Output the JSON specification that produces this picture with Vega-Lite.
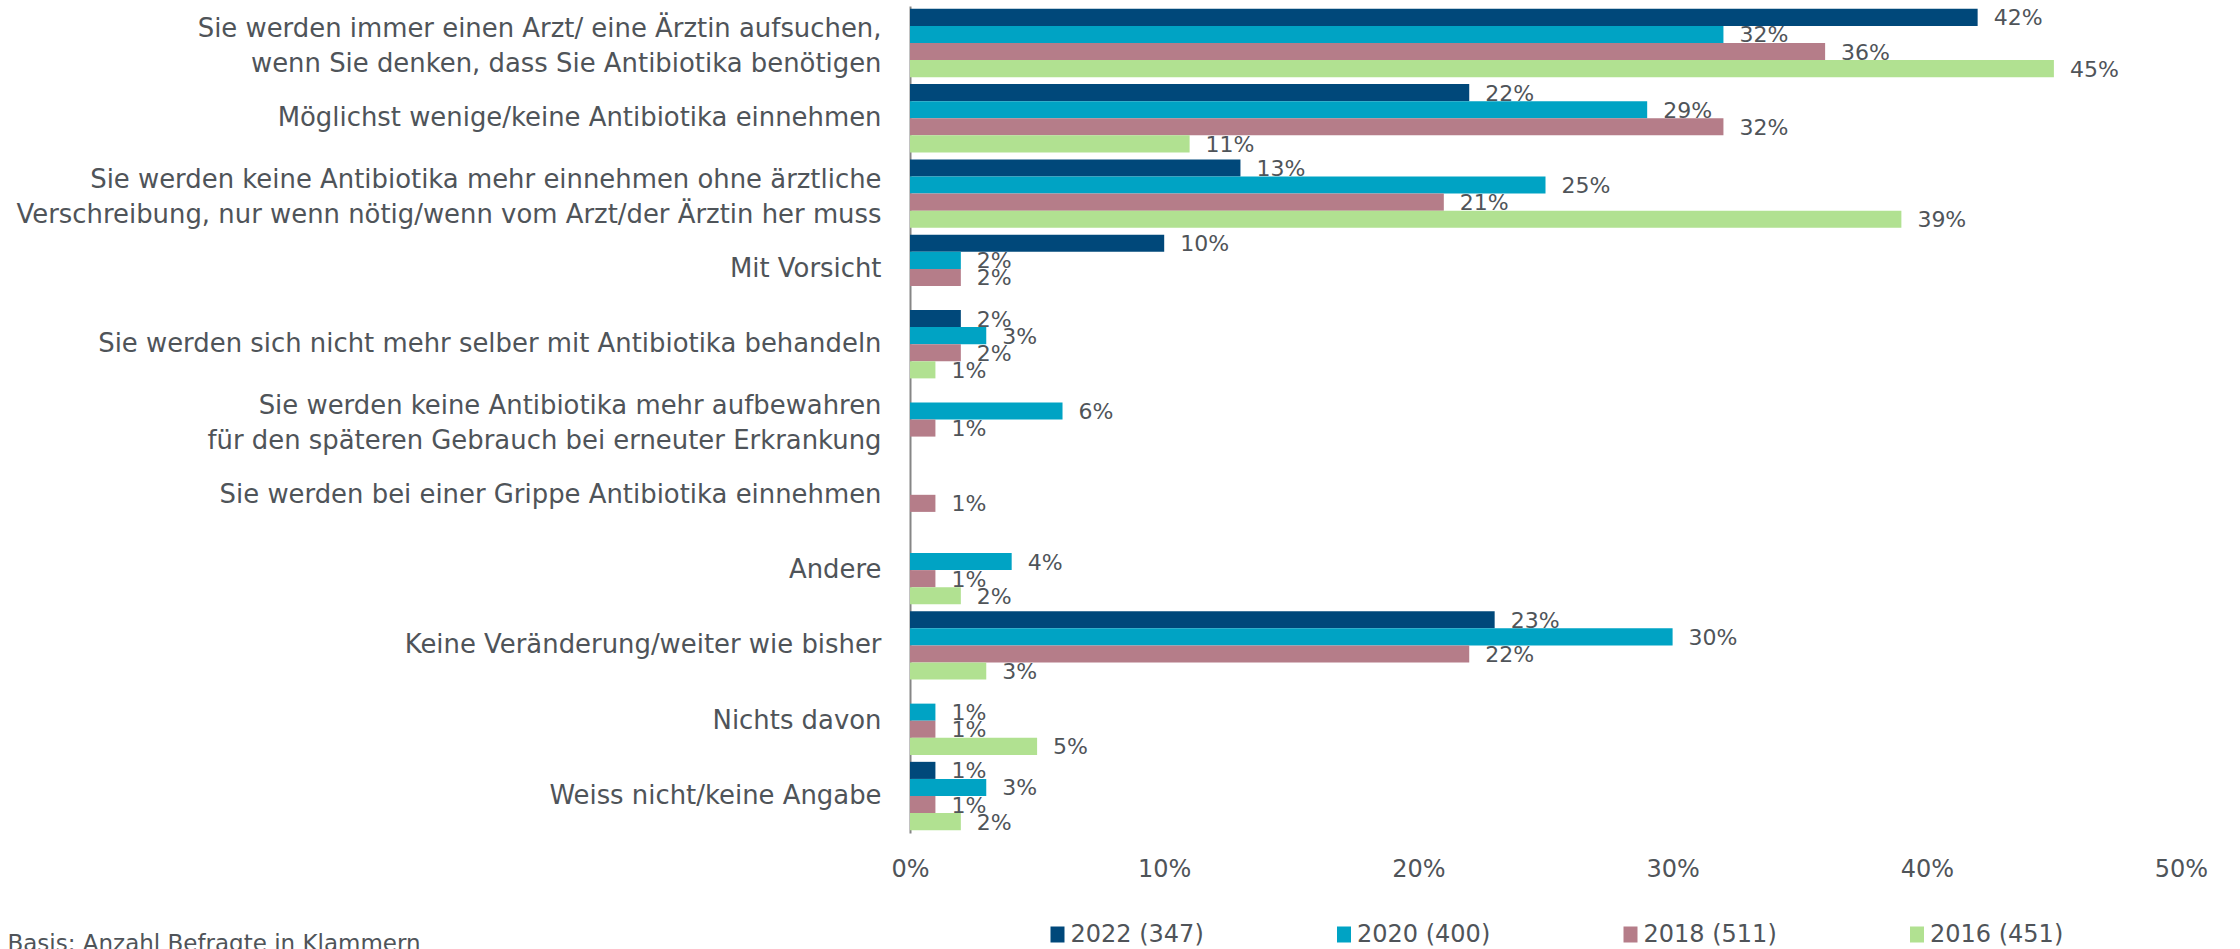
{
  "$schema": "https://vega.github.io/schema/vega-lite/v6.json",
  "width": 1271,
  "height": 827,
  "autosize": "none",
  "padding": {"left": 910, "top": 6, "right": 59, "bottom": 116},
  "background": "white",
  "config": {"view": {"stroke": null}, "font": "DejaVu Sans"},
  "data": {
    "values": [
      {"cat": "Sie werden immer einen Arzt/ eine Ärztin aufsuchen,|wenn Sie denken, dass Sie Antibiotika benötigen", "year": "2022 (347)", "v": 42},
      {"cat": "Sie werden immer einen Arzt/ eine Ärztin aufsuchen,|wenn Sie denken, dass Sie Antibiotika benötigen", "year": "2020 (400)", "v": 32},
      {"cat": "Sie werden immer einen Arzt/ eine Ärztin aufsuchen,|wenn Sie denken, dass Sie Antibiotika benötigen", "year": "2018 (511)", "v": 36},
      {"cat": "Sie werden immer einen Arzt/ eine Ärztin aufsuchen,|wenn Sie denken, dass Sie Antibiotika benötigen", "year": "2016 (451)", "v": 45},
      {"cat": "Möglichst wenige/keine Antibiotika einnehmen", "year": "2022 (347)", "v": 22},
      {"cat": "Möglichst wenige/keine Antibiotika einnehmen", "year": "2020 (400)", "v": 29},
      {"cat": "Möglichst wenige/keine Antibiotika einnehmen", "year": "2018 (511)", "v": 32},
      {"cat": "Möglichst wenige/keine Antibiotika einnehmen", "year": "2016 (451)", "v": 11},
      {"cat": "Sie werden keine Antibiotika mehr einnehmen ohne ärztliche|Verschreibung, nur wenn nötig/wenn vom Arzt/der Ärztin her muss", "year": "2022 (347)", "v": 13},
      {"cat": "Sie werden keine Antibiotika mehr einnehmen ohne ärztliche|Verschreibung, nur wenn nötig/wenn vom Arzt/der Ärztin her muss", "year": "2020 (400)", "v": 25},
      {"cat": "Sie werden keine Antibiotika mehr einnehmen ohne ärztliche|Verschreibung, nur wenn nötig/wenn vom Arzt/der Ärztin her muss", "year": "2018 (511)", "v": 21},
      {"cat": "Sie werden keine Antibiotika mehr einnehmen ohne ärztliche|Verschreibung, nur wenn nötig/wenn vom Arzt/der Ärztin her muss", "year": "2016 (451)", "v": 39},
      {"cat": "Mit Vorsicht", "year": "2022 (347)", "v": 10},
      {"cat": "Mit Vorsicht", "year": "2020 (400)", "v": 2},
      {"cat": "Mit Vorsicht", "year": "2018 (511)", "v": 2},
      {"cat": "Sie werden sich nicht mehr selber mit Antibiotika behandeln", "year": "2022 (347)", "v": 2},
      {"cat": "Sie werden sich nicht mehr selber mit Antibiotika behandeln", "year": "2020 (400)", "v": 3},
      {"cat": "Sie werden sich nicht mehr selber mit Antibiotika behandeln", "year": "2018 (511)", "v": 2},
      {"cat": "Sie werden sich nicht mehr selber mit Antibiotika behandeln", "year": "2016 (451)", "v": 1},
      {"cat": "Sie werden keine Antibiotika mehr aufbewahren|für den späteren Gebrauch bei erneuter Erkrankung", "year": "2020 (400)", "v": 6},
      {"cat": "Sie werden keine Antibiotika mehr aufbewahren|für den späteren Gebrauch bei erneuter Erkrankung", "year": "2018 (511)", "v": 1},
      {"cat": "Sie werden bei einer Grippe Antibiotika einnehmen", "year": "2018 (511)", "v": 1},
      {"cat": "Andere", "year": "2020 (400)", "v": 4},
      {"cat": "Andere", "year": "2018 (511)", "v": 1},
      {"cat": "Andere", "year": "2016 (451)", "v": 2},
      {"cat": "Keine Veränderung/weiter wie bisher", "year": "2022 (347)", "v": 23},
      {"cat": "Keine Veränderung/weiter wie bisher", "year": "2020 (400)", "v": 30},
      {"cat": "Keine Veränderung/weiter wie bisher", "year": "2018 (511)", "v": 22},
      {"cat": "Keine Veränderung/weiter wie bisher", "year": "2016 (451)", "v": 3},
      {"cat": "Nichts davon", "year": "2020 (400)", "v": 1},
      {"cat": "Nichts davon", "year": "2018 (511)", "v": 1},
      {"cat": "Nichts davon", "year": "2016 (451)", "v": 5},
      {"cat": "Weiss nicht/keine Angabe", "year": "2022 (347)", "v": 1},
      {"cat": "Weiss nicht/keine Angabe", "year": "2020 (400)", "v": 3},
      {"cat": "Weiss nicht/keine Angabe", "year": "2018 (511)", "v": 1},
      {"cat": "Weiss nicht/keine Angabe", "year": "2016 (451)", "v": 2}
    ]
  },
  "encoding": {
    "y": {
      "field": "cat",
      "type": "nominal",
      "sort": null,
      "scale": {"paddingInner": 0.092, "paddingOuter": 0.037},
      "axis": {
        "title": null,
        "ticks": false,
        "tickSize": 0,
        "labelPadding": 29,
        "labelFontSize": 25.9,
        "labelColor": "#4F5459",
        "labelLimit": 2000,
        "labelLineHeight": 35,
        "labelExpr": "split(datum.label, '|')",
        "labelOffset": {"condition": {"test": "indexof(datum.value, '|') >= 0", "value": -14}, "value": 0},
        "domain": true,
        "domainColor": "#868686",
        "domainWidth": 2,
        "grid": false
      }
    },
    "yOffset": {
      "field": "year",
      "type": "nominal",
      "scale": {"domain": ["2022 (347)", "2020 (400)", "2018 (511)", "2016 (451)"], "paddingInner": 0, "paddingOuter": 0}
    },
    "x": {
      "field": "v",
      "type": "quantitative",
      "scale": {"domain": [0, 50], "nice": false},
      "axis": {
        "values": [0, 10, 20, 30, 40, 50],
        "labelExpr": "datum.value + '%'",
        "grid": false,
        "domain": false,
        "ticks": false,
        "tickSize": 0,
        "labelPadding": 36,
        "labelBaseline": "middle",
        "labelFontSize": 24,
        "labelColor": "#4F5459",
        "labelFlush": false,
        "title": "Basis: Anzahl Befragte in Klammern",
        "titleX": -903,
        "titleY": 117,
        "titleAlign": "left",
        "titleAnchor": "start",
        "titleBaseline": "alphabetic",
        "titleFontSize": 23,
        "titleFontWeight": "normal",
        "titleColor": "#4F5459"
      }
    }
  },
  "layer": [
    {
      "mark": {"type": "bar"},
      "encoding": {
        "color": {
          "field": "year",
          "type": "nominal",
          "scale": {
            "domain": ["2022 (347)", "2020 (400)", "2018 (511)", "2016 (451)"],
            "range": ["#00487A", "#00A3C4", "#B57D89", "#B1E191"]
          },
          "legend": {
            "title": null,
            "orient": "none",
            "legendX": 135.5,
            "legendY": 916.5,
            "direction": "horizontal",
            "columns": 4,
            "gridAlign": "all",
            "columnPadding": 127.5,
            "symbolType": "M-0.875,-1H0.875V1H-0.875Z",
            "symbolSize": 256,
            "symbolStrokeWidth": 0,
            "labelFontSize": 24,
            "labelColor": "#4F5459",
            "labelOffset": 1,
            "padding": 0
          }
        }
      }
    },
    {
      "mark": {
        "type": "text",
        "align": "left",
        "baseline": "middle",
        "dx": 16,
        "dy": 1,
        "fontSize": 22,
        "color": "#4F5459",
        "text": {"expr": "datum.v + '%'"}
      }
    }
  ]
}
